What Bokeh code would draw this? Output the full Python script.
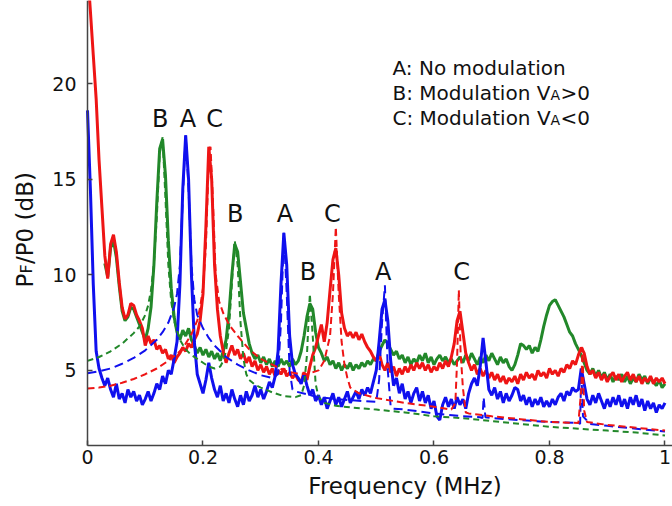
import math
from bokeh.plotting import figure
from bokeh.models import ColumnDataSource, Label, FixedTicker, Range1d
from bokeh.core.properties import value
from bokeh.embed import file_html
from bokeh.resources import INLINE

NAN = float("nan")

# frequency sampling grid (MHz), 0.005 MHz step
FREQ = [round(i * 0.005, 3) for i in range(201)]

# A: no modulation (blue, measured)
A_MEAS = [
    18.6, 14.5, 9.5, 6.0, 5.1, 4.6, 4.2, 4.6, 4.0, 3.6,
    4.3, 3.5, 3.8, 3.3, 4.0, 3.6, 3.9, 3.4, 3.7, 3.2,
    3.5, 3.9, 3.4, 3.8, 4.3, 4.0, 4.7, 4.3, 5.0, 4.8,
    5.6, 6.5, 9.5, 14.5, 17.3, 15.0, 10.0, 6.5, 4.8, 4.3,
    3.8, 4.5, 5.4, 4.6, 4.0, 3.6, 4.2, 3.4, 3.8, 3.3,
    4.0, 3.5, 3.1, 3.7, 3.2, 3.9, 3.4, 3.7, 4.2, 3.6,
    4.0, 3.5, 3.9, 4.4, 4.1, 4.7, 6.0, 9.5, 12.2, 10.5,
    6.8, 5.3, 4.8, 4.6, 4.3, 4.8, 4.2, 3.7, 4.0, 3.4,
    3.7, 3.2, 3.6, 3.0, 3.4, 3.8, 3.2, 3.6, 3.1, 3.5,
    3.9, 3.3, 3.6, 3.9, 3.5, 4.0, 3.7, 4.1, 3.8, 4.4,
    5.0, 6.5, 8.2, 8.7, 7.6, 5.5, 4.2, 4.6, 3.8, 4.3,
    3.5, 3.9, 3.3, 3.8, 4.1, 3.4, 3.9, 3.3, 3.7, 3.0,
    3.4, 2.6, 2.4, 3.2, 3.6, 3.1, 3.5, 3.0, 3.6, 3.2,
    3.5, 3.0, 3.8, 4.3, 4.6, 4.2, 5.2, 6.7, 5.4, 4.0,
    3.7, 4.1, 3.5, 3.9, 3.3, 3.8, 3.4, 3.7, 4.1, 4.0,
    3.4, 3.7, 3.2, 3.6, 3.1, 3.5, 3.2, 3.6, 3.1, 3.4,
    3.1, 3.5, 3.2, 3.6, 3.8, 3.4, 3.9, 3.7, 4.1, 3.9,
    4.0, 5.1, 4.3, 3.5, 3.2, 3.7, 3.3, 3.8, 3.4, 3.0,
    3.5, 3.1, 3.6, 3.2, 3.7, 3.1, 3.5, 3.0, 3.6, 3.2,
    3.7, 3.1, 3.5, 2.9, 3.4, 3.0, 3.3, 2.8, 3.2, 3.0,
    3.3,
]

# B: modulation VA>0 (green, measured)
B_MEAS = [
    NAN, NAN, NAN, NAN, NAN, NAN, 10.6, 9.9, 11.4, 11.8,
    10.9, 9.4, 8.1, 7.6, 7.8, 8.3, 8.2, 7.8, 7.4, 7.0,
    6.6, 7.2, 8.3, 10.5, 13.8, 16.6, 17.1, 15.2, 11.8, 9.3,
    7.8, 7.0, 6.6, 7.1, 6.8, 7.2, 6.6, 6.3, 5.9, 6.2,
    5.8, 6.1, 5.7, 6.0, 5.6, 5.9, 5.5, 6.0, 6.6, 8.0,
    10.0, 11.6, 11.2, 9.6, 8.0, 7.2, 6.4, 5.9, 5.6, 5.8,
    5.4, 5.7, 5.3, 5.6, 5.2, 5.5, 5.2, 5.6, 5.3, 5.5,
    5.2, 5.6, 5.3, 5.5, 6.0, 6.8, 7.8, 8.5, 8.2, 7.0,
    6.2, 5.9, 5.5, 5.7, 5.3, 5.5, 5.1, 5.4, 5.0, 5.3,
    5.1, 5.4, 5.0, 5.3, 5.1, 5.4, 5.2, 5.5, 5.3, 5.6,
    5.5, 6.0, 6.3, 6.6, 6.4, 6.1, 5.8, 6.0, 5.6, 5.8,
    5.4, 5.7, 5.3, 5.6, 5.4, 5.8, 5.5, 5.9, 5.4, 5.7,
    5.3, 5.6, 5.8, 5.5, 5.7, 5.4, 5.6, 5.3, 5.5, 5.7,
    5.4, 5.8, 5.5, 5.9, 5.6, 5.3, 5.7, 5.4, 5.8, 5.5,
    5.9, 5.6, 5.3, 5.7, 5.4, 5.6, 5.2, 5.0, 5.3, 5.8,
    6.4, 6.3, 6.1, 6.3, 5.9, 6.2, 6.0, 6.6, 7.3, 7.9,
    8.4, 8.6, 8.7, 8.4, 8.1, 7.8, 7.4, 7.0, 6.8, 6.4,
    6.1, 5.8, 5.4, 5.0, 4.8, 5.1, 4.7, 5.0, 4.6, 4.9,
    4.5, 4.8, 4.4, 4.7, 4.5, 4.8, 4.4, 4.7, 4.3, 4.6,
    4.4, 4.8, 4.5, 4.7, 4.3, 4.6, 4.4, 4.2, 4.5, 4.1,
    4.3,
]

# C: modulation VA<0 (red, measured)
C_MEAS = [
    26.0, 23.8, 21.5, 19.2, 16.0, 13.5, 11.0, 9.8, 11.6, 12.1,
    11.2, 9.6, 8.3, 7.7, 7.9, 8.5, 8.4, 7.9, 7.6, 7.2,
    6.3, 6.8, 6.4, 6.6, 6.1, 6.3, 5.9, 6.1, 5.6, 5.8,
    5.4, 5.7, 5.9, 6.2, 6.0, 6.4, 6.2, 6.6, 6.9, 7.6,
    9.0, 12.5, 16.7, 15.0, 10.5, 8.2, 6.8, 6.0, 5.4, 5.9,
    6.3, 5.8, 6.1, 5.6, 5.9, 5.4, 5.7, 5.2, 5.5, 5.0,
    5.3, 4.9, 5.2, 4.8, 5.1, 4.7, 5.0, 4.8, 5.1, 4.7,
    4.9, 4.6, 4.8, 4.5, 4.4, 4.9, 4.5, 5.2, 5.8, 6.2,
    6.8, 7.4, 6.5, 7.5, 9.2, 10.8, 11.4, 10.0, 8.0, 7.2,
    6.8, 7.0, 6.7, 7.0, 6.6, 6.9, 6.5, 6.2, 6.0, 5.7,
    5.5, 5.9, 5.3, 5.0, 5.4, 4.9, 5.2, 4.7, 5.1, 4.8,
    5.2, 4.9, 5.3, 5.0, 5.4, 5.1, 5.4, 5.0, 5.3, 4.9,
    5.2, 5.0, 5.4, 5.1, 5.5, 5.2, 5.7, 6.4, 7.6, 8.1,
    7.0, 5.9, 5.4, 5.0, 5.3, 4.8, 5.1, 4.7, 5.0, 4.6,
    4.9, 4.5, 4.8, 4.4, 4.7, 4.3, 4.6, 4.4, 4.7, 4.3,
    4.8, 4.5, 4.9, 4.6, 4.8, 4.5, 5.0, 4.7, 4.9, 4.6,
    5.1, 4.8, 5.0, 4.7, 5.1, 4.9, 5.3, 5.1, 5.5, 5.3,
    5.8, 6.2, 5.9, 5.2, 4.8, 5.0, 4.6, 4.9, 4.5, 4.8,
    4.4, 4.7, 4.9, 4.5, 4.8, 4.4, 4.7, 4.9, 4.5, 4.8,
    4.4, 4.7, 4.3, 4.6, 4.4, 4.7, 4.3, 4.6, 4.4, 4.6,
    4.3,
]

# fitted curves (dashed)
A_FIT_F = [0, 0.02, 0.04, 0.06, 0.08, 0.1, 0.12, 0.13, 0.14, 0.15,
           0.155, 0.16, 0.165, 0.17, 0.175, 0.18, 0.185, 0.19, 0.2, 0.21,
           0.22, 0.24, 0.26, 0.28, 0.3, 0.32, 0.33, 0.335, 0.34, 0.345,
           0.35, 0.355, 0.36, 0.38, 0.4, 0.45, 0.5, 0.505, 0.51, 0.515,
           0.52, 0.525, 0.53, 0.55, 0.6, 0.65, 0.68, 0.684, 0.686, 0.689,
           0.7, 0.75, 0.8, 0.85, 0.853, 0.855, 0.858, 0.87, 0.9, 0.95, 1.0]
A_FIT_V = [4.85, 4.95, 5.1, 5.35, 5.65, 6.05, 6.6, 7.0, 7.5, 8.3,
           9.0, 10.5, 14.0, 17.3, 14.5, 10.5, 8.7, 7.9, 7.2, 6.7,
           6.3, 5.7, 5.3, 5.0, 4.75, 4.6, 4.8, 7.5, 12.2, 9.0,
           5.0, 4.0, 3.9, 3.75, 3.6, 3.45, 3.35, 4.5, 7.5, 9.45,
           5.0, 3.1, 3.0, 2.95, 2.75, 2.6, 2.55, 2.5, 3.6, 2.55,
           2.5, 2.4, 2.3, 2.25, 2.2, 5.0, 2.6, 2.2, 2.1, 1.95, 1.8]

B_FIT_F = [0, 0.02, 0.04, 0.06, 0.08, 0.09, 0.1, 0.105, 0.11, 0.115,
           0.12, 0.125, 0.13, 0.135, 0.14, 0.145, 0.15, 0.16, 0.17, 0.18,
           0.19, 0.2, 0.21, 0.22, 0.23, 0.235, 0.24, 0.245, 0.25, 0.255,
           0.26, 0.265, 0.27, 0.275, 0.28, 0.29, 0.3, 0.32, 0.34, 0.36,
           0.37, 0.375, 0.38, 0.385, 0.39, 0.395, 0.4, 0.41, 0.43, 0.46,
           0.5, 0.55, 0.6, 0.65, 0.7, 0.75, 0.8, 0.85, 0.9, 0.95, 1.0]
B_FIT_V = [5.5, 5.7, 6.0, 6.4, 6.95, 7.3, 7.9, 8.4, 9.2, 10.6,
           13.0, 16.3, 17.2, 14.0, 10.5, 8.6, 7.6, 6.6, 6.1, 5.8,
           5.6, 5.4, 5.2, 5.1, 5.2, 5.5, 6.0, 7.2, 9.5, 11.8,
           10.5, 7.5, 5.6, 4.8, 4.5, 4.25, 4.1, 3.85, 3.65, 3.6,
           3.7, 4.2, 5.8, 9.0, 6.8, 4.3, 3.6, 3.3, 3.15, 3.05,
           2.95, 2.8, 2.6, 2.5, 2.35, 2.2, 2.05, 1.95, 1.85, 1.75, 1.6]

C_FIT_F = [0, 0.02, 0.04, 0.06, 0.08, 0.1, 0.12, 0.14, 0.16, 0.17,
           0.18, 0.19, 0.195, 0.2, 0.205, 0.21, 0.213, 0.217, 0.222, 0.228,
           0.235, 0.245, 0.26, 0.28, 0.3, 0.32, 0.34, 0.36, 0.38, 0.4,
           0.41, 0.42, 0.425, 0.43, 0.435, 0.44, 0.445, 0.45, 0.455, 0.47,
           0.5, 0.55, 0.6, 0.63, 0.637, 0.64, 0.643, 0.646, 0.65, 0.655,
           0.66, 0.7, 0.75, 0.8, 0.85, 0.855, 0.857, 0.86, 0.865, 0.9,
           0.95, 1.0]
C_FIT_V = [4.05, 4.1, 4.2, 4.35, 4.55, 4.8, 5.1, 5.5, 6.0, 6.4,
           6.9, 7.6, 8.3, 9.3, 11.5, 16.0, 16.7, 14.0, 10.0, 8.6,
           8.0, 7.4, 6.8, 6.1, 5.6, 5.3, 5.0, 4.85, 4.8, 5.0,
           5.5, 6.8, 9.0, 12.5, 9.0, 6.5, 5.3, 4.6, 4.1, 3.8,
           3.55, 3.3, 3.1, 2.95, 3.3, 5.5, 9.2, 6.0, 4.1, 2.8,
           2.75, 2.6, 2.45, 2.3, 2.25, 4.0, 6.2, 2.9, 2.3, 2.15,
           2.0, 1.85]

# peak annotations
PEAK_TEXT = ["B", "A", "C", "B", "A", "C", "B", "A", "C"]
PEAK_F = [0.126, 0.174, 0.220, 0.256, 0.342, 0.424, 0.382, 0.512, 0.648]
PEAK_V = [17.67, 17.67, 17.67, 12.71, 12.71, 12.71, 9.67, 9.67, 9.67]

X_TICKS = [0, 0.2, 0.4, 0.6, 0.8, 1.0]
Y_TICKS = [5, 10, 15, 20]

BLUE = "#1010ee"
GREEN = "#22882a"
RED = "#ee1515"
FONT = "DejaVu Sans"

W, H = 672, 506
X0, X1 = -0.15065, 1.01299   # full canvas in data units
Y0, Y1 = -2.12, 24.35
Y_AXIS_AT = 1.07
BL = 0.37  # baseline correction (fraction of font size)

p = figure(width=W, height=H, output_backend="svg", toolbar_location=None,
           x_range=Range1d(X0, X1), y_range=Range1d(Y0, Y1),
           min_border=0, min_border_left=0, min_border_right=0,
           min_border_top=0, min_border_bottom=0)
p.outline_line_color = None
p.xgrid.visible = False
p.ygrid.visible = False
p.background_fill_color = "white"
p.border_fill_color = "white"

src = ColumnDataSource(dict(f=FREQ, a=A_MEAS, b=B_MEAS, c=C_MEAS))
p.line("f", "b", source=src, color=GREEN, line_width=3)
p.line("f", "c", source=src, color=RED, line_width=3)
p.line("f", "a", source=src, color=BLUE, line_width=3)

p.line(B_FIT_F, B_FIT_V, color=GREEN, line_width=2, line_dash="6 4")
p.line(A_FIT_F, A_FIT_V, color=BLUE, line_width=2, line_dash="9 5")
p.line(C_FIT_F, C_FIT_V, color=RED, line_width=2, line_dash="7 4")

lsrc = ColumnDataSource(dict(f=PEAK_F, v=PEAK_V, t=PEAK_TEXT))
p.text("f", "v", text="t", source=lsrc, text_font=value(FONT),
       text_font_size=value("24px"), text_align="center",
       text_baseline="alphabetic", text_color="#111111",
       y_offset=-round(BL * 24))

for ax in (p.xaxis[0], p.yaxis[0]):
    ax.axis_line_color = "#444444"
    ax.axis_line_width = 1.5
    ax.major_tick_line_color = "#444444"
    ax.major_tick_line_width = 1.5
    ax.major_tick_in = 5
    ax.major_tick_out = 0
    ax.minor_tick_line_color = None
    ax.major_label_text_font = FONT
    ax.major_label_text_font_size = "19px"
    ax.major_label_text_color = "#111111"

p.xaxis.ticker = FixedTicker(ticks=X_TICKS)
p.xaxis.major_label_overrides = {0: "0", 1: "1"}
p.xaxis.major_label_standoff = 4
p.xaxis.fixed_location = Y_AXIS_AT
p.xaxis.bounds = (0, X1)
p.yaxis.ticker = FixedTicker(ticks=Y_TICKS)
p.yaxis.major_label_standoff = 11
p.yaxis.fixed_location = 0
p.yaxis.bounds = (Y_AXIS_AT, Y1)


def lab(text, x, y, size, angle=0.0, align="left"):
    # x, y: baseline position in canvas pixels (y measured from the bottom)
    s = BL * size
    if angle:
        x = x - s
    else:
        y = y + s
    p.add_layout(Label(x=x, y=y, x_units="screen", y_units="screen", text=text,
                       text_font=FONT, text_font_size=f"{size}px", angle=angle,
                       text_align=align, text_baseline="alphabetic",
                       text_color="#111111"))


# x axis title
lab("Frequency (MHz)", 404.5, 12, 23, align="center")

# y axis title  P_F/P_0 (dB)
lab("P", 33, 219, 23, angle=math.pi / 2)
lab("F", 32, 233, 16, angle=math.pi / 2)
lab("/P0 (dB)", 33, 242.5, 23, angle=math.pi / 2)

# legend text
lab("A: No modulation", 392, 431, 20)
lab("B: Modulation V", 392, 406, 20)
lab("A", 550, 406, 14)
lab(">0", 560, 406, 20)
lab("C: Modulation V", 392, 381, 20)
lab("A", 550, 381, 14)
lab("<0", 560, 381, 20)

open("out.html", "w").write(file_html(p, INLINE))
